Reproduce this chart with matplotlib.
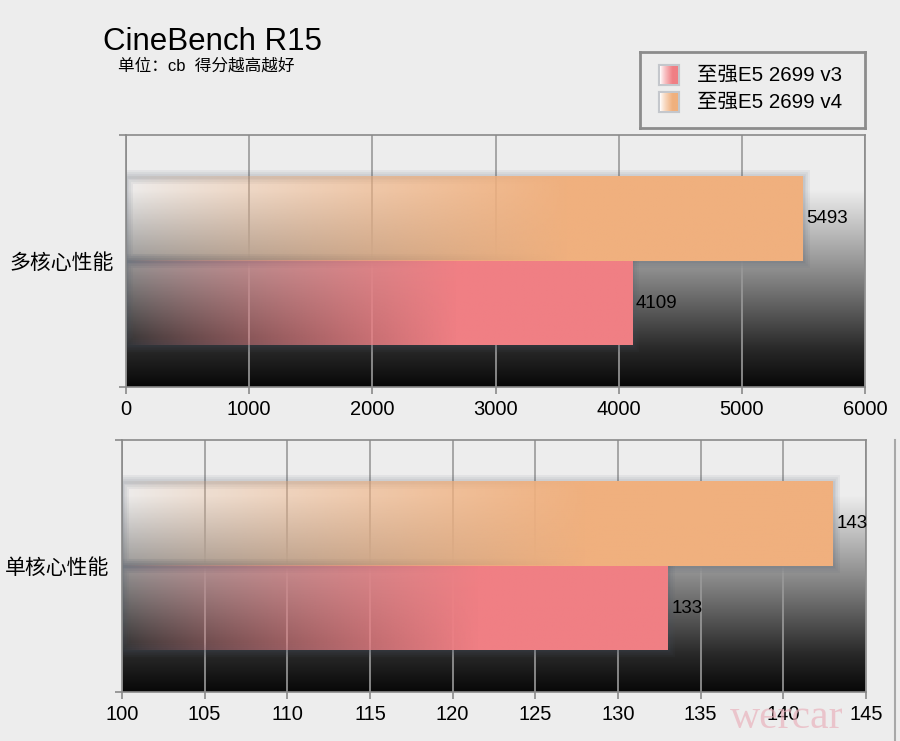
import numpy as np
import matplotlib.pyplot as plt
from matplotlib.patches import Rectangle
from matplotlib.lines import Line2D
from matplotlib.colors import to_rgb

plt.rcParams['font.family'] = ['Liberation Sans', 'Noto Sans CJK SC', 'DejaVu Sans']

# data
title = 'CineBench R15'
subtitle = '单位：cb  得分越高越好'
series = ['至强E5 2699 v3', '至强E5 2699 v4']
colors = ['#f07f84', '#f0b07e']
multi_label = '多核心性能'
multi_v3 = 4109
multi_v4 = 5493
multi_ticks = [0, 1000, 2000, 3000, 4000, 5000, 6000]
single_label = '单核心性能'
single_v3 = 133
single_v4 = 143
single_ticks = [100, 105, 110, 115, 120, 125, 130, 135, 140, 145]

BG = '#ededed'
GRID = '#9a9a9a'
BAR_H = 0.335


def background(ax):
    f = np.linspace(0, 1, 300)
    g = np.interp(f, [0, 0.22, 0.5, 0.7, 0.85, 1.0],
                  [0.93, 0.93, 0.6, 0.35, 0.16, 0.03])
    img = np.repeat(g[:, None, None], 3, axis=2)
    ax.imshow(img, extent=(0, 1, 0, 1), transform=ax.transAxes,
              aspect='auto', interpolation='bilinear', zorder=-1)


def grad_bar(ax, x0, val, y0, color):
    n = 300
    t = np.linspace(0, 1, n)
    a = np.clip(t / 0.65, 0, 1) ** 0.8
    rgba = np.zeros((1, n, 4))
    rgba[..., :3] = to_rgb(color)
    rgba[..., 3] = a
    # soft shadow around the bar
    for lw in [2, 4, 7, 10]:
        ax.add_patch(Rectangle((x0, y0), val - x0, BAR_H, facecolor='none',
                               edgecolor='#4a5668', lw=lw, alpha=0.07, zorder=2))
    ax.imshow(rgba, extent=(x0, val, y0, y0 + BAR_H), aspect='auto',
              interpolation='bilinear', zorder=3)


def panel(rect, label, v3, v4, ticks):
    ax = fig.add_axes(rect)
    ax.set_facecolor('none')
    background(ax)
    x0 = ticks[0]
    grad_bar(ax, x0, v3, -BAR_H, colors[0])
    grad_bar(ax, x0, v4, 0, colors[1])
    ax.set_xlim(ticks[0], ticks[-1])
    ax.set_ylim(-0.5, 0.5)
    px = (ticks[-1] - ticks[0]) / ax.bbox.width
    for v, y in [(v3, -BAR_H / 2), (v4, BAR_H / 2)]:
        ax.text(v + 4 * px, y, str(v), ha='left', va='center', fontsize=13.5, zorder=5)
    ax.set_xticks(ticks)
    ax.set_xticklabels([str(t) for t in ticks])
    ax.set_axisbelow(True)
    ax.xaxis.grid(True, color=GRID, lw=1.2)
    ax.set_yticks([0])
    ax.set_yticklabels([label], fontsize=15)
    ax.set_yticks([-0.5, 0.5], minor=True)
    ax.tick_params(axis='y', which='major', length=0, pad=9)
    ax.tick_params(axis='y', which='minor', length=5, color='#8a8a8a', width=1.2)
    ax.tick_params(axis='x', length=5, color='#8a8a8a', width=1.2, labelsize=14.5, pad=4)
    for s in ax.spines.values():
        s.set_color('#8a8a8a')
        s.set_linewidth(1.2)
    return ax


fig = plt.figure(figsize=(9, 7.41), dpi=100, facecolor=BG)

panel([126 / 900, 1 - 387 / 741, 739 / 900, 252 / 741], multi_label, multi_v3, multi_v4, multi_ticks)
panel([122 / 900, 1 - 692 / 741, 744 / 900, 252 / 741], single_label, single_v3, single_v4, single_ticks)

fig.text(103 / 900, 1 - 50 / 741, title, fontsize=22.5, va='baseline')
fig.text(118 / 900, 1 - 71 / 741, subtitle, fontsize=12, va='baseline')

# legend box
lg = fig.add_axes([640 / 900, 1 - 128 / 741, 225 / 900, 76 / 741])
lg.set_facecolor(BG)
lg.set_xticks([])
lg.set_yticks([])
for s in lg.spines.values():
    s.set_color('#8c8c8c')
    s.set_linewidth(2)
for i, (name, c) in enumerate(zip(series, colors)):
    yc = 23 + 27 * i
    n = 50
    t = np.linspace(0, 1, n)
    rgba = np.zeros((1, n, 4))
    rgba[..., :3] = to_rgb(c)
    rgba[..., 3] = np.clip(t / 0.7, 0, 1) ** 0.8
    lg.add_patch(Rectangle((20, yc - 9), 18, 18, facecolor='none', edgecolor='#7a8090',
                           lw=3, alpha=0.35, zorder=1))
    lg.add_patch(Rectangle((20, yc - 9), 18, 18, facecolor='white', lw=0, zorder=2))
    lg.imshow(rgba, extent=(20, 38, yc + 9, yc - 9), aspect='auto',
              interpolation='bilinear', zorder=3)
    lg.text(57, yc, name, fontsize=14.8, va='center', ha='left')
lg.set_xlim(0, 225)
lg.set_ylim(76, 0)

fig.add_artist(Line2D([895 / 900, 895 / 900], [0, 1 - 440 / 741], color='#a8a8a8', lw=1.5))
fig.text(730 / 900, 1 - 728 / 741, 'wercar', family='Liberation Serif', fontsize=30,
         color='#e9b3bd', alpha=0.7)

fig.savefig('out.png', dpi=100, facecolor=BG)
